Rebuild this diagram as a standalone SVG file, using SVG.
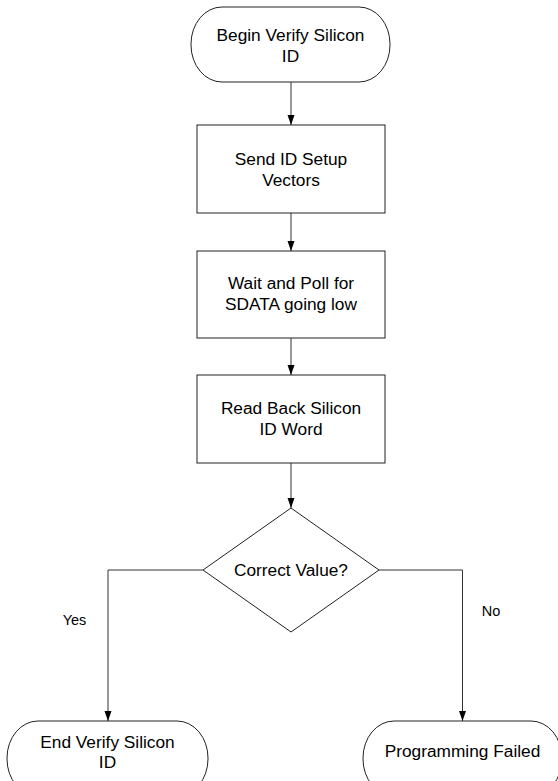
<svg xmlns="http://www.w3.org/2000/svg" width="558" height="781" viewBox="0 0 558 781">
  <style>
    .shape { fill: #ffffff; stroke: #222222; stroke-width: 1; }
    .label { font-family: "Liberation Sans", Arial, sans-serif; font-size: 17.3px; fill: #000000; text-anchor: middle; }
    .branch { font-family: "Liberation Sans", Arial, sans-serif; font-size: 14.5px; fill: #000000; text-anchor: middle; }
    .wire { fill: none; stroke: #333333; stroke-width: 1; }
  </style>
  <defs>
    <marker id="arrow" viewBox="0 0 10 10" refX="10" refY="5" markerWidth="10" markerHeight="10" markerUnits="userSpaceOnUse" orient="auto">
      <path d="M0,1.5 L10,5 L0,8.5 Z" fill="#000000"/>
    </marker>
  </defs>

  <rect width="558" height="781" fill="#ffffff"/>

  <!-- connectors -->
  <g id="connectors">
    <line class="wire" x1="291" y1="82" x2="291" y2="125" marker-end="url(#arrow)"/>
    <line class="wire" x1="291" y1="213" x2="291" y2="251" marker-end="url(#arrow)"/>
    <line class="wire" x1="291" y1="338" x2="291" y2="375" marker-end="url(#arrow)"/>
    <line class="wire" x1="291" y1="463" x2="291" y2="508" marker-end="url(#arrow)"/>
    <polyline class="wire" points="203,570 108,570 108,721" marker-end="url(#arrow)"/>
    <polyline class="wire" points="379,570 462.5,570 462.5,721" marker-end="url(#arrow)"/>
    <text class="branch" x="74.5" y="625">Yes</text>
    <text class="branch" x="491" y="615.5">No</text>
  </g>

  <!-- start terminal -->
  <g id="begin">
    <rect class="shape" x="191" y="7" width="199" height="75" rx="31" ry="37"/>
    <text class="label" x="290.5" y="41">Begin Verify Silicon</text>
    <text class="label" x="290.5" y="62">ID</text>
  </g>

  <g id="send-setup">
    <rect class="shape" x="197" y="125" width="188" height="88"/>
    <text class="label" x="291" y="165">Send ID Setup</text>
    <text class="label" x="291" y="186">Vectors</text>
  </g>

  <g id="wait-poll">
    <rect class="shape" x="197" y="251" width="188" height="87"/>
    <text class="label" x="291" y="289">Wait and Poll for</text>
    <text class="label" x="291" y="310">SDATA going low</text>
  </g>

  <g id="read-back">
    <rect class="shape" x="197" y="375" width="188" height="88"/>
    <text class="label" x="291" y="414">Read Back Silicon</text>
    <text class="label" x="291" y="435">ID Word</text>
  </g>

  <g id="decision">
    <polygon class="shape" points="291,508 379,570 291,632 203,570"/>
    <text class="label" x="291" y="576">Correct Value?</text>
  </g>

  <g id="end-ok">
    <rect class="shape" x="7" y="721" width="201" height="75" rx="31" ry="37"/>
    <text class="label" x="107.5" y="748">End Verify Silicon</text>
    <text class="label" x="107.5" y="768">ID</text>
  </g>

  <g id="end-fail">
    <rect class="shape" x="363" y="721" width="199" height="75" rx="31" ry="37"/>
    <text class="label" x="462.5" y="757">Programming Failed</text>
  </g>
</svg>
